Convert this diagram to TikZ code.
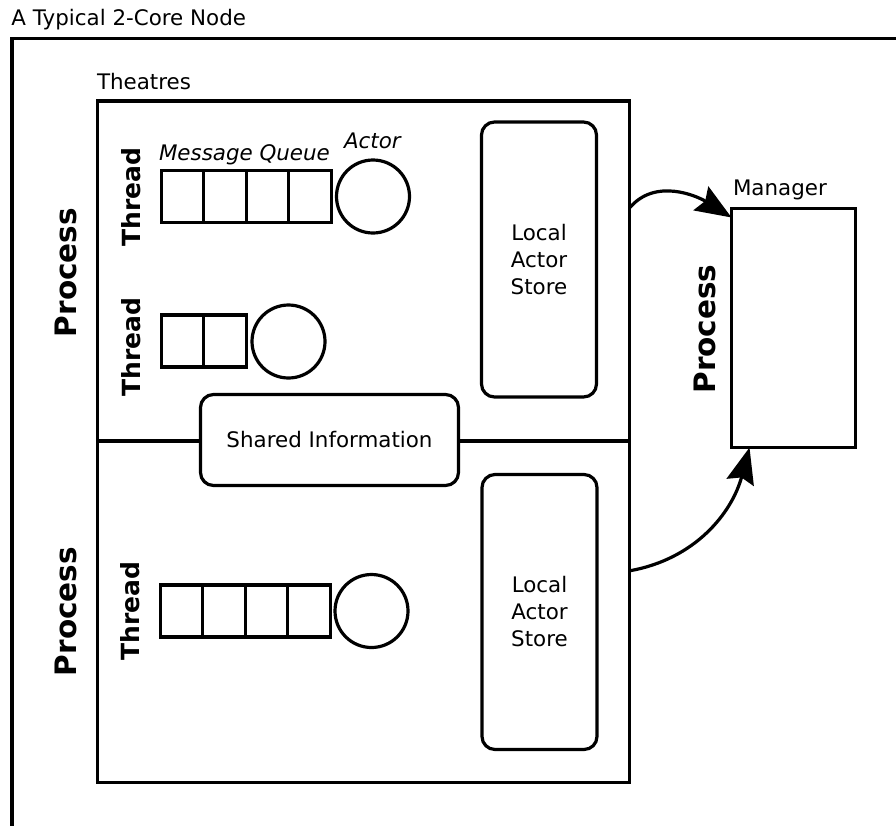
\documentclass[tikz,border=0pt]{standalone}
\usepackage{fontspec}
\setmainfont{DejaVu Sans}
\usetikzlibrary{arrows.meta}

\def\lw{3.2pt}

\begin{document}
\begin{tikzpicture}[x=1pt, y=-1pt, line width=\lw,
    every node/.style={inner sep=0pt, outer sep=0pt, font=\fontsize{21.4}{27}\selectfont},
    box/.style={draw},
    cell/.style={draw, minimum width=42.5pt, minimum height=52pt},
    actor/.style={draw, circle, minimum size=73pt},
    store/.style={draw, rounded corners=13pt, align=center, minimum width=115pt, minimum height=275pt},
    biglabel/.style={rotate=90, font=\fontsize{29.5}{30}\selectfont\bfseries},
    threadlabel/.style={rotate=90, font=\fontsize{25}{26}\selectfont\bfseries},
    link/.style={-{Stealth[length=36pt, width=28pt, inset=5pt]}}]
      \useasboundingbox (0,0) rectangle (896,825);
      \draw (12,900) |- (950,38.3);
      \node[anchor=base west] (title) at (11.5,25) {A Typical 2-Core Node};
      \node[anchor=base west] (theatres) at (97,89) {Theatres};
      \node[box, minimum width=531.8pt, minimum height=340pt] (procA) at (363.6,271) {};
      \node[box, minimum width=531.8pt, minimum height=341.6pt] (procB) at (363.6,611.8) {};
      \node[biglabel] (procAlbl) at (66,272.5) {Process};
      \node[biglabel] (procBlbl) at (65.5,611.5) {Process};
      \node[threadlabel] (thA) at (131,197) {Thread};
      \node[threadlabel] (thB) at (131,347) {Thread};
      \node[threadlabel] (thC) at (130.5,611) {Thread};
      \node[anchor=base west, font=\fontsize{21.4}{27}\selectfont\itshape] (mq) at (159,160) {Message Queue};
      \node[anchor=base west, font=\fontsize{21.4}{27}\selectfont\itshape] (actlbl) at (344,148) {Actor};
      \node[cell] (q1a) at (182.5,196.5) {};
      \node[cell] (q1b) at (225,196.5) {};
      \node[cell] (q1c) at (267.5,196.5) {};
      \node[cell] (q1d) at (310,196.5) {};
      \node[actor] (act1) at (373,196.5) {};
      \node[cell] (q2a) at (182.5,341) {};
      \node[cell] (q2b) at (225,341) {};
      \node[actor] (act2) at (288.5,341.5) {};
      \node[cell] (q3a) at (181.5,611) {};
      \node[cell] (q3b) at (224,611) {};
      \node[cell] (q3c) at (266.5,611) {};
      \node[cell] (q3d) at (309,611) {};
      \node[actor] (act3) at (371.5,611) {};
      \node[store] (storeA) at (539,259.5) {Local\\Actor\\Store};
      \node[store] (storeB) at (539.5,612) {Local\\Actor\\Store};
      \node[draw, fill=white, rounded corners=13pt, minimum width=258pt, minimum height=91pt] (shared) at (329.5,440) {Shared Information};
      \node[box, minimum width=124pt, minimum height=239pt] (mgr) at (793.5,328) {};
      \node[anchor=base west] (mgrlbl) at (733,195) {Manager};
      \node[biglabel] (mgrproc) at (705,329) {Process};
      \draw[link] ([yshift=63pt]procA.east) to[out=50, in=148] ([yshift=-9pt]mgr.north west);
      \draw[link] ([yshift=41pt]procB.east) to[out=10, in=255] ([xshift=18pt]mgr.south west);
    \end{tikzpicture}
\end{document}
